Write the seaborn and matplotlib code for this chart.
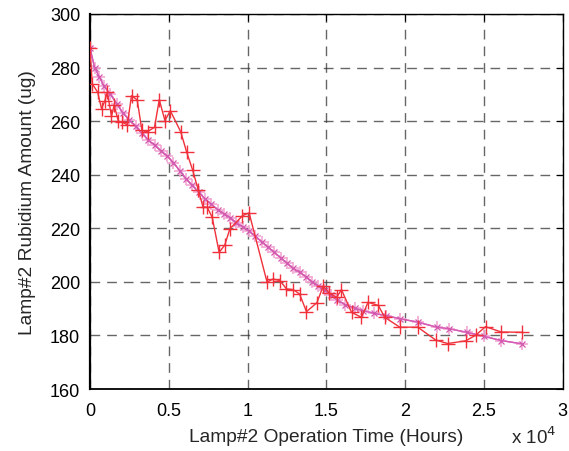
import numpy as np
import pandas as pd
import matplotlib
matplotlib.use("Agg")
import matplotlib.pyplot as plt
import seaborn as sns

# Measured data (x in units of 10^4 hours)
meas_x = [0, 0.015, 0.049, 0.074, 0.095, 0.11, 0.137, 0.154, 0.18, 0.205, 0.237, 0.264, 0.30,
          0.33, 0.366, 0.41, 0.44, 0.476, 0.51, 0.577, 0.613, 0.651, 0.687, 0.718, 0.744, 0.776,
          0.82, 0.856, 0.888, 0.968, 1.01, 1.124, 1.162, 1.205, 1.247, 1.29, 1.33, 1.374, 1.44,
          1.48, 1.52, 1.565, 1.596, 1.66, 1.723, 1.765, 1.83, 1.87, 1.966, 2.08, 2.194, 2.27,
          2.384, 2.448, 2.51, 2.61, 2.74]
meas_y = [287.2, 273.9, 270.8, 264.6, 267.6, 270.8, 261.8, 266, 260, 259.6, 258.6, 269.5, 267.9,
          256.5, 256.1, 257.7, 268, 260.2, 263.9, 255.9, 248.6, 241.9, 234.4, 227.9, 227.9, 224.1,
          211, 213.8, 219.8, 224.7, 225.8, 199.9, 201.1, 200.5, 197.4, 197.1, 195.5, 188.9, 192.2,
          198.4, 195.8, 194.2, 197.1, 188.6, 186.8, 192.4, 191.2, 186.8, 183.1, 183.1, 178.3, 177,
          178, 180.1, 183.3, 181.3, 181.2]

# Model curve
model_x = [0.00, 0.03, 0.06, 0.09, 0.13, 0.17, 0.21, 0.25, 0.29, 0.33, 0.37, 0.41, 0.45, 0.49,
           0.53, 0.57, 0.61, 0.65, 0.69, 0.73, 0.77, 0.81, 0.85, 0.89, 0.93, 0.97, 1.01, 1.05,
           1.09, 1.13, 1.17, 1.21, 1.25, 1.29, 1.33, 1.37, 1.41, 1.45, 1.49, 1.53, 1.57, 1.62,
           1.68, 1.73, 1.80, 1.88, 1.97, 2.08, 2.20, 2.28, 2.39, 2.50, 2.61, 2.74]
model_y = [287.3, 280, 276.5, 273, 270, 266.5, 263, 260.5, 258, 255.5, 253, 251, 249, 247,
           244.5, 241.5, 238.5, 236, 233.5, 231, 229, 227, 225.5, 224, 222, 220.5, 219, 217,
           215, 213, 211, 209, 207, 205, 203.6, 202, 200, 198.5, 197, 195, 193.2, 191.5,
           190.2, 189.3, 188.3, 187.4, 186.2, 185, 183.1, 182.5, 181.2, 179.7, 178.1, 176.9]

x_ticks = [0, 0.5, 1, 1.5, 2, 2.5, 3]
x_ticklabels = ["0", "0.5", "1", "1.5", "2", "2.5", "3"]
y_ticks = [160, 180, 200, 220, 240, 260, 280, 300]

sns.set_style("white")
plt.rcParams['font.family'] = ['Liberation Sans', 'DejaVu Sans']

fig = plt.figure(figsize=(5.69, 4.52), dpi=100)
ax = fig.add_axes([0.158, 0.137, 0.831, 0.830])

dm = pd.DataFrame({"x": model_x, "y": model_y})
dr = pd.DataFrame({"x": meas_x, "y": meas_y})

sns.lineplot(data=dm, x="x", y="y", ax=ax, sort=False, estimator=None, color="#d65bb4",
             lw=1.0, marker="+", markersize=9, markeredgewidth=1.2, markeredgecolor="#f4a6d2",
             zorder=3)
sns.lineplot(data=dm, x="x", y="y", ax=ax, sort=False, estimator=None, color="#d65bb4",
             lw=1.0, marker="x", markersize=5, markeredgewidth=0.9, markeredgecolor="#d25aae",
             zorder=4)
sns.lineplot(data=dr, x="x", y="y", ax=ax, sort=False, estimator=None, color="#f0303a",
             lw=1.0, marker="+", markersize=10, markeredgewidth=1.0, markeredgecolor="#f0303a",
             zorder=5)

ax.set_xlim(0, 3)
ax.set_ylim(160, 300)
ax.set_xticks(x_ticks)
ax.set_xticklabels(x_ticklabels)
ax.set_yticks(y_ticks)
ax.grid(True, color="#333333", linestyle=(0, (7, 5)), linewidth=1.0, alpha=0.75)
ax.tick_params(direction="in", length=5, width=0.8, labelsize=13, top=True, right=True,
               colors="black")
ax.tick_params(axis="x", pad=9)
ax.tick_params(axis="y", pad=7)
for s in ax.spines.values():
    s.set_visible(True)
    s.set_color("black")
    s.set_linewidth(1.0)
ax.spines["left"].set_linewidth(1.6)
ax.spines["bottom"].set_linewidth(1.3)

ax.set_xlabel("Lamp#2 Operation Time (Hours)", fontsize=13.8, labelpad=7)
ax.set_ylabel("Lamp#2 Rubidium Amount (ug)", fontsize=13.8, labelpad=10)
ax.text(0.89, -0.125, r"x 10$^4$", transform=ax.transAxes, fontsize=13.5, ha="left", va="center")

fig.savefig("out.png", dpi=100)
